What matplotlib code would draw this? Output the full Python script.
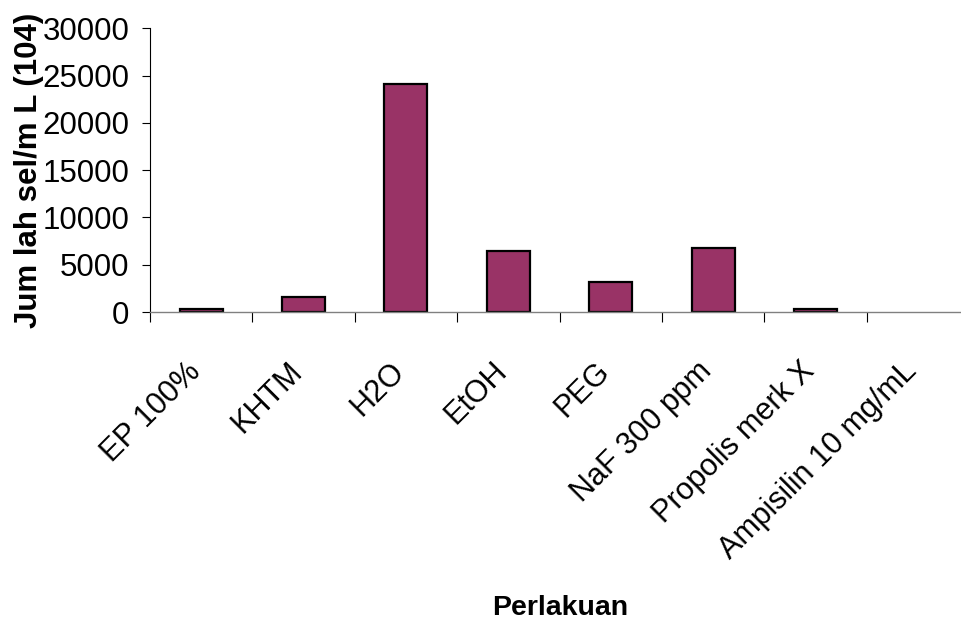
import matplotlib
matplotlib.use("Agg")
import matplotlib.pyplot as plt
import matplotlib.transforms as mtransforms
import numpy as np

# data
categories = ["EP 100%", "KHTM", "H2O", "EtOH", "PEG", "NaF 300 ppm",
              "Propolis merk X", "Ampisilin 10 mg/mL"]
values = [300, 1600, 24100, 6400, 3200, 6750, 300, 0]

plt.rcParams['font.family'] = ['Liberation Sans', 'DejaVu Sans']

fig = plt.figure(figsize=(9.61, 6.23), dpi=100)
W, H = 961, 623
ax = fig.add_axes([150 / W, (H - 312) / H, (969 - 150) / W, (312 - 28.3) / H])

x = np.arange(len(categories))
# zero bars are not drawn in the original, so no outline for them
edges = ["black" if v > 0 else "none" for v in values]
ax.bar(x, values, width=0.42, color="#993366", edgecolor=edges, linewidth=1.6)

ax.set_xlim(-0.5, len(categories) - 0.5)
ax.set_ylim(0, 30000)
ax.set_yticks(range(0, 30001, 5000))
ax.tick_params(axis='y', length=6, width=0.8, pad=9, direction='out')
for lab in ax.get_yticklabels():
    lab.set_fontfamily(['Liberation Sans Narrow', 'Liberation Sans'])
    lab.set_fontsize(22.5)

# labels at category centres, tick marks at category boundaries
ax.set_xticks(x)
ax.set_xticklabels(categories, rotation=45, ha='right', va='top',
                   rotation_mode='anchor', fontsize=22)
ax.tick_params(axis='x', which='major', length=0, pad=32)
shift = mtransforms.ScaledTranslation(-16 / 100, 0, fig.dpi_scale_trans)
for lab in ax.get_xticklabels():
    lab.set_transform(lab.get_transform() + shift)
ax.set_xticks(np.arange(-0.5, len(categories) - 0.5, 1.0), minor=True)
ax.tick_params(axis='x', which='minor', length=7, width=0.8, direction='out')

for side in ['top', 'right']:
    ax.spines[side].set_visible(False)
ax.spines['left'].set_linewidth(0.8)
ax.spines['bottom'].set_linewidth(1.0)
ax.spines['bottom'].set_color('#808080')

ax.set_ylabel("Jum lah sel/m L (104)", fontsize=22.5, fontweight='bold')
ax.yaxis.set_label_coords(-106 / (969 - 150), 0.5)
fig.text(560 / W, 1 - 608 / H, "Perlakuan", fontsize=20.5, fontweight='bold',
         ha='center', va='center')

fig.savefig("out.png", dpi=100)
